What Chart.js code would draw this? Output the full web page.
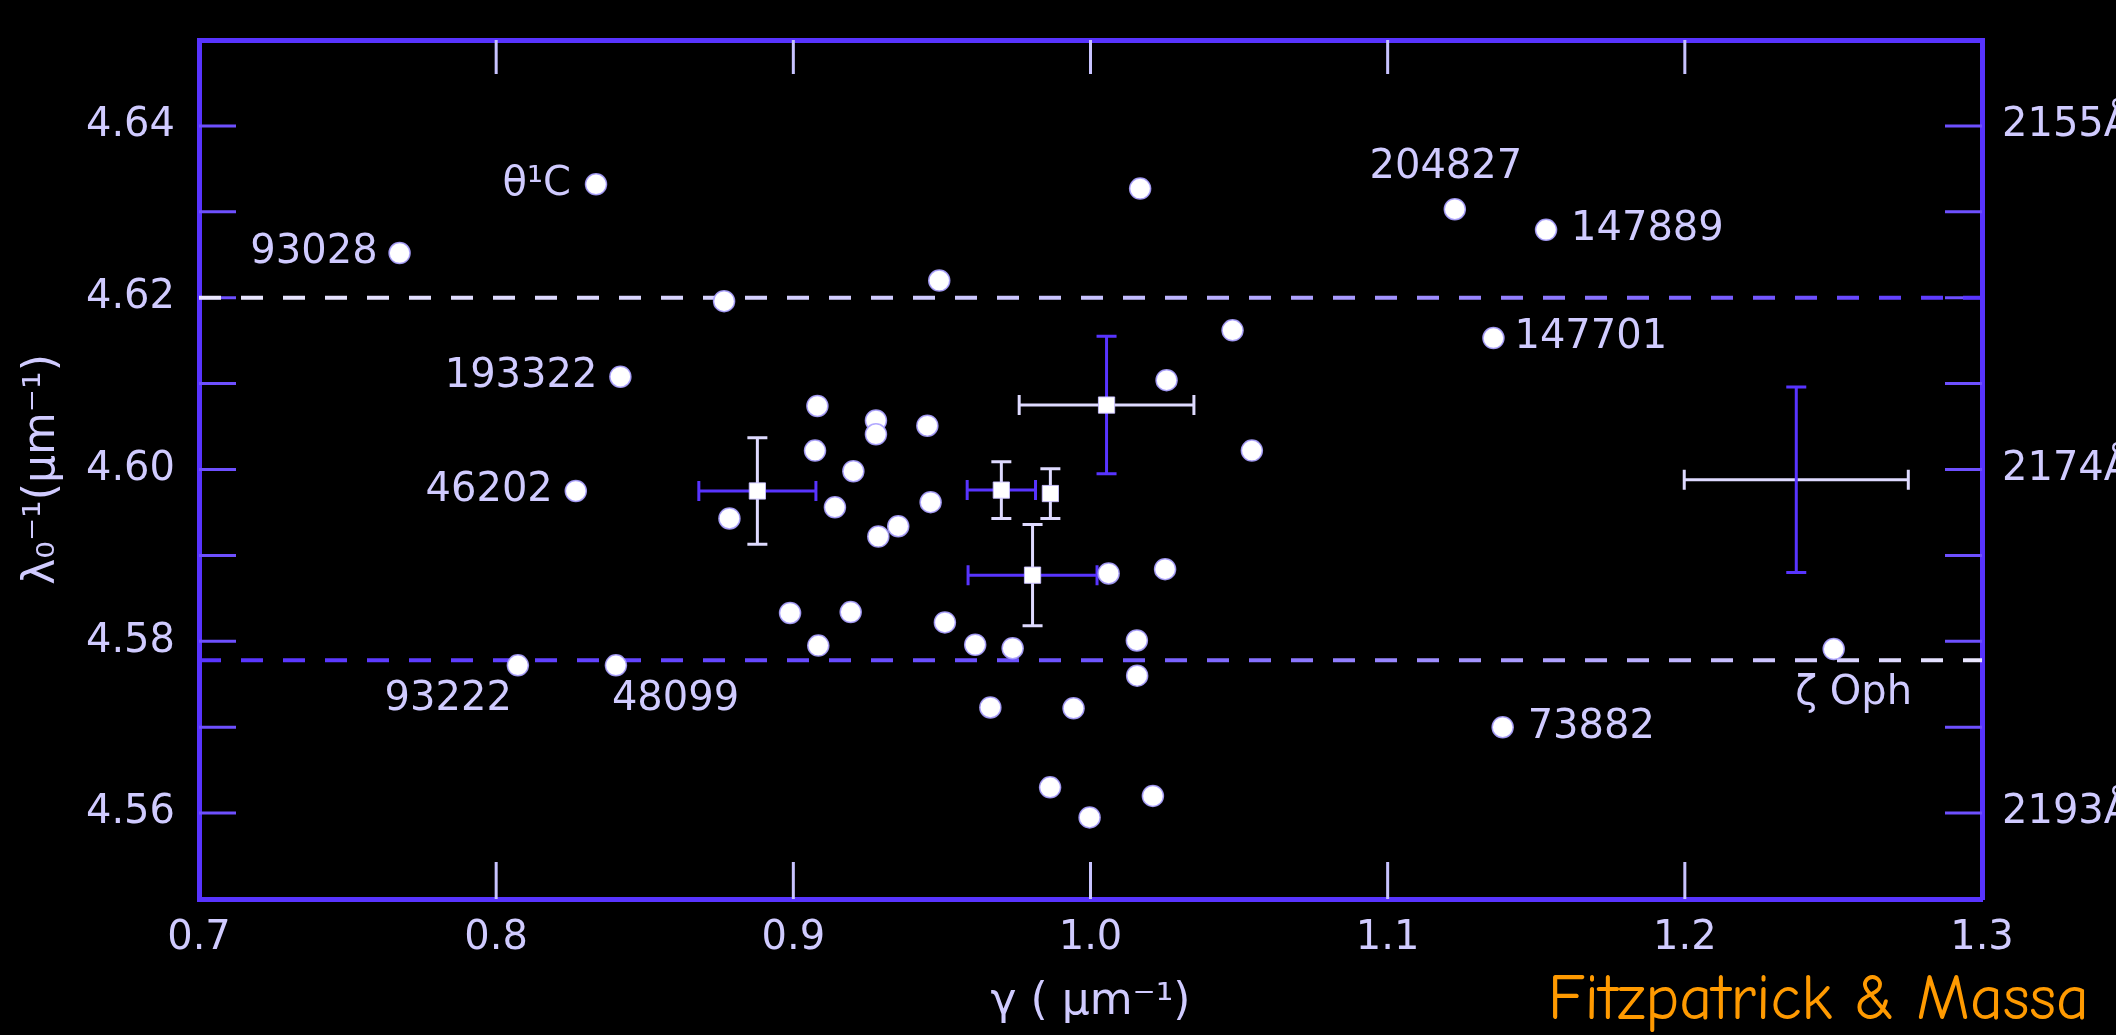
<!DOCTYPE html>
<html>
<head>
<meta charset="utf-8">
<title>2175 bump: position vs width</title>
<script src="https://cdn.jsdelivr.net/npm/chart.js@4.4.1/dist/chart.umd.min.js"></script>
<style>
  html, body { margin: 0; padding: 0; background: #000; }
  #wrap { width: 2116px; height: 1035px; }
</style>
</head>
<body>
<div id="wrap"><canvas id="myChart"></canvas></div>
<script>
// bump width gamma (um^-1) and centre x0 = 1/lambda0 (um^-1)
const fieldGamma = [0.8767, 0.9491, 1.0167, 1.0478, 1.0256, 1.0543, 0.9081, 0.9073, 0.9202, 0.9140,
  0.9278, 0.9278, 0.9451, 0.9462, 0.9286, 0.9353, 0.8785, 0.8989, 0.9193, 0.9084,
  0.9510, 0.9612, 0.9738, 1.0061, 1.0251, 1.0156, 1.0157, 0.9663, 0.9943, 0.9864, 0.9997, 1.0210]
const fieldX0 = [4.6196, 4.6220, 4.6327, 4.6162, 4.6104, 4.6022, 4.6074, 4.6022, 4.5998, 4.5956,
  4.6057, 4.6041, 4.6051, 4.5962, 4.5922, 4.5934, 4.5943, 4.5833, 4.5834, 4.5795,
  4.5822, 4.5796, 4.5792, 4.5879, 4.5884, 4.5801, 4.5760, 4.5723, 4.5722, 4.5630, 4.5595, 4.5620]

// stars with names
const starNames = ['93028', 'θ¹C', '193322', '46202', '93222', '48099', '204827', '147889', '147701', '73882', 'ζ Oph']
const starGamma = [0.7675, 0.8336, 0.8418, 0.8268, 0.8073, 0.8403, 1.1226, 1.1533, 1.1356, 1.1387, 1.2501]
const starX0 = [4.6252, 4.6332, 4.6108, 4.5975, 4.5772, 4.5772, 4.6303, 4.6279, 4.6153, 4.5700, 4.5791]

// averaged points with their errors
const meanGamma = [0.8879, 0.9700, 0.9865, 0.9805, 1.0054]
const meanX0 = [4.5975, 4.5976, 4.5972, 4.5877, 4.6075]
const meanGammaErr = [0.0197, 0.0115, 0, 0.0217, 0.0294]
const meanX0Err = [0.0062, 0.0033, 0.0029, 0.0059, 0.0080]

// typical error for a single star
const typGamma = [1.2375]
const typX0 = [4.5988]
const typGammaErr = [0.0377]
const typX0Err = [0.0108]

// dashed limits
const upperLimit = 4.620
const lowerLimit = 4.5778

const xTickValues = [0.7, 0.8, 0.9, 1.0, 1.1, 1.2, 1.3]
const xTickLabels = ['0.7', '0.8', '0.9', '1.0', '1.1', '1.2', '1.3']
const yTickValues = [4.56, 4.57, 4.58, 4.59, 4.60, 4.61, 4.62, 4.63, 4.64]
const yTickLabels = ['4.56', '', '4.58', '', '4.60', '', '4.62', '', '4.64']
const angstromLabels = ['2193Å', '', '', '', '2174Å', '', '', '', '2155Å']

const BLUE = 'rgb(88,52,255)'
const PALE = 'rgb(222,218,255)'
const TEXT = 'rgb(208,203,255)'

// colours of the horizontal / vertical arms of each cross
const meanArmColors = [[BLUE, PALE], [BLUE, PALE], [BLUE, PALE], [BLUE, PALE], [PALE, BLUE]]
const typArmColors = [[PALE, BLUE]]

const toPoints = (xs, ys) => xs.map((v, i) => ({x: v, y: ys[i]}))

function fade(from, mid, to) {
    return (context) => {
        const chart = context.chart
        const a = chart.chartArea
        if (!a) return mid
        const g = chart.ctx.createLinearGradient(a.left, 0, a.right, 0)
        g.addColorStop(0, from)
        g.addColorStop(0.5, mid)
        g.addColorStop(1, to)
        return g
    }
}

const labelSpots = {
    '93028': {dx: -22, dy: 0, align: 'right'},
    'θ¹C': {dx: -25, dy: 0, align: 'right'},
    '193322': {dx: -23, dy: 0, align: 'right'},
    '46202': {dx: -23, dy: 0, align: 'right'},
    '93222': {dx: -6, dy: 34, align: 'right'},
    '48099': {dx: -4, dy: 34, align: 'left'},
    '204827': {dx: -9, dy: -42, align: 'center'},
    '147889': {dx: 25, dy: 0, align: 'left'},
    '147701': {dx: 21, dy: 0, align: 'left'},
    '73882': {dx: 25, dy: 0, align: 'left'},
    'ζ Oph': {dx: 20, dy: 45, align: 'center'}
}

const blackBackground = {
    id: 'blackBackground',
    beforeDraw(chart) {
        const ctx = chart.ctx
        ctx.save()
        ctx.fillStyle = '#000'
        ctx.fillRect(0, 0, chart.width, chart.height)
        ctx.restore()
    }
}

// tick marks pointing into the frame on all four sides
const innerTicks = {
    id: 'innerTicks',
    beforeDatasetsDraw(chart) {
        const {ctx, chartArea: a, scales} = chart
        const len = 37
        ctx.save()
        ctx.lineWidth = 3
        ctx.strokeStyle = 'rgb(200,195,255)'
        ctx.beginPath()
        xTickValues.slice(1, -1).forEach(v => {
            const px = scales.x.getPixelForValue(v)
            ctx.moveTo(px, a.bottom)
            ctx.lineTo(px, a.bottom - len)
            ctx.moveTo(px, a.top)
            ctx.lineTo(px, a.top + len - 3)
        })
        ctx.stroke()
        ctx.strokeStyle = 'rgb(110,80,255)'
        ctx.beginPath()
        yTickValues.forEach(v => {
            const py = scales.y.getPixelForValue(v)
            ctx.moveTo(a.left, py)
            ctx.lineTo(a.left + len, py)
            ctx.moveTo(a.right, py)
            ctx.lineTo(a.right - len, py)
        })
        ctx.stroke()
        ctx.restore()
    }
}

const errorBars = {
    id: 'errorBars',
    beforeDatasetsDraw(chart) {
        const {ctx, scales: {x, y}} = chart
        const cap = 10
        ctx.save()
        ctx.lineWidth = 3
        chart.data.datasets.forEach(ds => {
            if (!ds.errX) return
            ds.data.forEach((p, i) => {
                const cx = x.getPixelForValue(p.x)
                const cy = y.getPixelForValue(p.y)
                if (ds.errX[i]) {
                    const x1 = x.getPixelForValue(p.x - ds.errX[i])
                    const x2 = x.getPixelForValue(p.x + ds.errX[i])
                    ctx.strokeStyle = ds.armColors[i][0]
                    ctx.beginPath()
                    ctx.moveTo(x1, cy); ctx.lineTo(x2, cy)
                    ctx.moveTo(x1, cy - cap); ctx.lineTo(x1, cy + cap)
                    ctx.moveTo(x2, cy - cap); ctx.lineTo(x2, cy + cap)
                    ctx.stroke()
                }
                if (ds.errY[i]) {
                    const y1 = y.getPixelForValue(p.y - ds.errY[i])
                    const y2 = y.getPixelForValue(p.y + ds.errY[i])
                    ctx.strokeStyle = ds.armColors[i][1]
                    ctx.beginPath()
                    ctx.moveTo(cx, y1); ctx.lineTo(cx, y2)
                    ctx.moveTo(cx - cap, y1); ctx.lineTo(cx + cap, y1)
                    ctx.moveTo(cx - cap, y2); ctx.lineTo(cx + cap, y2)
                    ctx.stroke()
                }
            })
        })
        ctx.restore()
    }
}

const starLabels = {
    id: 'starLabels',
    afterDatasetsDraw(chart) {
        const {ctx, scales: {x, y}} = chart
        ctx.save()
        ctx.font = '40px "DejaVu Sans"'
        ctx.fillStyle = TEXT
        ctx.textBaseline = 'middle'
        starNames.forEach((name, i) => {
            const spot = labelSpots[name]
            ctx.textAlign = spot.align
            ctx.fillText(name, x.getPixelForValue(starGamma[i]) + spot.dx, y.getPixelForValue(starX0[i]) + spot.dy)
        })
        ctx.restore()
    }
}

const credit = {
    id: 'credit',
    afterDraw(chart) {
        const ctx = chart.ctx
        ctx.save()
        ctx.font = '64px "Comic Sans MS", "Comic Neue", Lato, sans-serif'
        ctx.fillStyle = '#ff9a00'
        ctx.textAlign = 'right'
        ctx.textBaseline = 'alphabetic'
        ctx.fillText('Fitzpatrick & Massa', 2089, 1019)
        ctx.restore()
    }
}

Chart.defaults.font.family = '"DejaVu Sans"'
Chart.defaults.color = TEXT

const axisBorder = {display: true, color: BLUE, width: 5}
const tickFont = {size: 40}

const config = {
    type: 'scatter',
    data: {
        datasets: [
            {
                label: 'stars',
                data: toPoints(fieldGamma, fieldX0),
                backgroundColor: '#fff',
                borderColor: 'rgba(170,160,255,0.9)',
                borderWidth: 1.5,
                pointRadius: 10.5,
                order: 1
            },
            {
                label: 'named stars',
                data: toPoints(starGamma, starX0),
                backgroundColor: '#fff',
                borderColor: 'rgba(170,160,255,0.9)',
                borderWidth: 1.5,
                pointRadius: 10.5,
                order: 1
            },
            {
                label: 'means',
                data: toPoints(meanGamma, meanX0),
                errX: meanGammaErr,
                errY: meanX0Err,
                armColors: meanArmColors,
                pointStyle: 'rect',
                backgroundColor: '#fff',
                borderColor: 'rgba(200,190,255,0.9)',
                borderWidth: 1,
                pointRadius: 11.5,
                order: 2
            },
            {
                label: 'typical error',
                data: toPoints(typGamma, typX0),
                errX: typGammaErr,
                errY: typX0Err,
                armColors: typArmColors,
                pointRadius: 0,
                order: 2
            },
            {
                type: 'line',
                label: 'upper',
                data: [{x: 0.7, y: upperLimit}, {x: 1.3, y: upperLimit}],
                borderColor: fade('rgb(235,232,255)', 'rgb(200,195,255)', BLUE),
                borderWidth: 4,
                borderDash: [22, 20],
                pointRadius: 0,
                order: 5
            },
            {
                type: 'line',
                label: 'lower',
                data: [{x: 0.7, y: lowerLimit}, {x: 1.3, y: lowerLimit}],
                borderColor: fade(BLUE, 'rgb(110,85,255)', 'rgb(235,232,255)'),
                borderWidth: 4,
                borderDash: [22, 20],
                pointRadius: 0,
                order: 5
            }
        ]
    },
    options: {
        responsive: true,
        maintainAspectRatio: false,
        animation: false,
        events: [],
        layout: {padding: 0},
        plugins: {
            legend: {display: false},
            tooltip: {enabled: false}
        },
        scales: {
            x: {
                type: 'linear',
                position: 'bottom',
                min: 0.7,
                max: 1.3,
                afterBuildTicks: (axis) => { axis.ticks = xTickValues.map(v => ({value: v})) },
                afterFit: (axis) => { axis.height = 136 },
                grid: {display: false},
                border: axisBorder,
                ticks: {
                    font: tickFont,
                    padding: 8,
                    autoSkip: false,
                    maxRotation: 0,
                    callback: (value, i) => xTickLabels[i]
                },
                title: {
                    display: true,
                    text: 'γ ( μm⁻¹)',
                    font: {size: 44},
                    padding: {top: 0, bottom: 6}
                }
            },
            x2: {
                type: 'linear',
                position: 'top',
                min: 0.7,
                max: 1.3,
                afterFit: (axis) => { axis.height = 10 },
                grid: {display: false},
                border: axisBorder,
                ticks: {display: false}
            },
            y: {
                type: 'linear',
                position: 'left',
                min: 4.55,
                max: 4.65,
                afterBuildTicks: (axis) => { axis.ticks = yTickValues.map(v => ({value: v})) },
                afterFit: (axis) => { axis.width = 199 },
                grid: {display: false},
                border: axisBorder,
                ticks: {
                    font: tickFont,
                    padding: 16,
                    autoSkip: false,
                    callback: (value, i) => yTickLabels[i]
                },
                title: {
                    display: true,
                    text: 'λ₀⁻¹(μm⁻¹)',
                    font: {size: 44},
                    padding: {top: 16, bottom: 0}
                }
            },
            y2: {
                type: 'linear',
                position: 'right',
                min: 4.55,
                max: 4.65,
                afterBuildTicks: (axis) => { axis.ticks = yTickValues.map(v => ({value: v})) },
                afterFit: (axis) => { axis.width = 134 },
                grid: {display: false},
                border: axisBorder,
                ticks: {
                    font: tickFont,
                    padding: 12,
                    autoSkip: false,
                    callback: (value, i) => angstromLabels[i]
                }
            }
        }
    },
    plugins: [blackBackground, innerTicks, errorBars, starLabels, credit]
}

const myChart = new Chart(document.getElementById('myChart'), config)
</script>
</body>
</html>
